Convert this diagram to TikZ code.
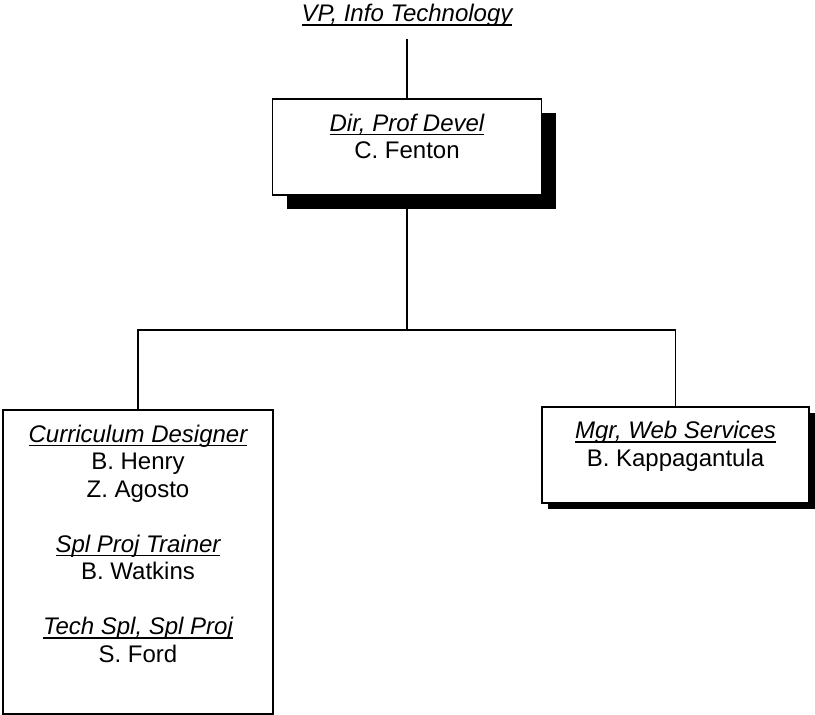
\documentclass[tikz,border=0pt]{standalone}
\usepackage{fontspec}
\setmainfont{Liberation Sans}
\usetikzlibrary{shadows}
\newcommand\ulit[1]{\leavevmode\setbox0\hbox{\itshape #1}\rlap{\rule[-2pt]{\wd0}{0.75pt}}\box0}
\newcommand\boxtext[4]{\parbox[c][#2][t]{#1}{\centering\fontsize{12}{13.75}\selectfont\rule{0pt}{#3}#4}}
\tikzset{
  orgbox/.style={draw, line width=0.75pt, fill=white, inner sep=0pt, anchor=north},
  bigshadow/.style={drop shadow={shadow xshift=7pt, shadow yshift=-7pt, fill=black, opacity=1}},
  smallshadow/.style={drop shadow={shadow xshift=3pt, shadow yshift=-3pt, fill=black, opacity=1}},
  conn/.style={line width=0.75pt},
}
\begin{document}
\begin{tikzpicture}[x=0.5pt,y=-0.5pt]
\useasboundingbox (0,0) rectangle (815,714);
\node[font=\fontsize{12}{13.75}\selectfont, inner sep=0pt, text depth=0pt, anchor=base] (vp) at (407,21.7) {\ulit{VP, Info Technology}};
\node[orgbox, bigshadow] (dir) at (407,98) {\boxtext{134.5pt}{48pt}{16.3pt}{\ulit{Dir, Prof Devel}\\C. Fenton}};
\node[orgbox] (cur) at (138,409) {\boxtext{135pt}{152pt}{16.3pt}{\ulit{Curriculum Designer}\\B. Henry\\Z. Agosto\\[13.75pt]\ulit{Spl Proj Trainer}\\B. Watkins\\[13.75pt]\ulit{Tech Spl, Spl Proj}\\S. Ford}};
\node[orgbox, smallshadow] (web) at (675.5,406) {\boxtext{133.5pt}{48pt}{15.9pt}{\ulit{Mgr, Web Services}\\B. Kappagantula}};
\coordinate (jn) at (407,330);
\draw[conn] ([yshift=-8.6pt]vp.south) -- (dir.north);
\draw[conn] (dir.south) -- (jn);
\draw[conn] (cur.north) |- (jn) -| (web.north);
\end{tikzpicture}
\end{document}
